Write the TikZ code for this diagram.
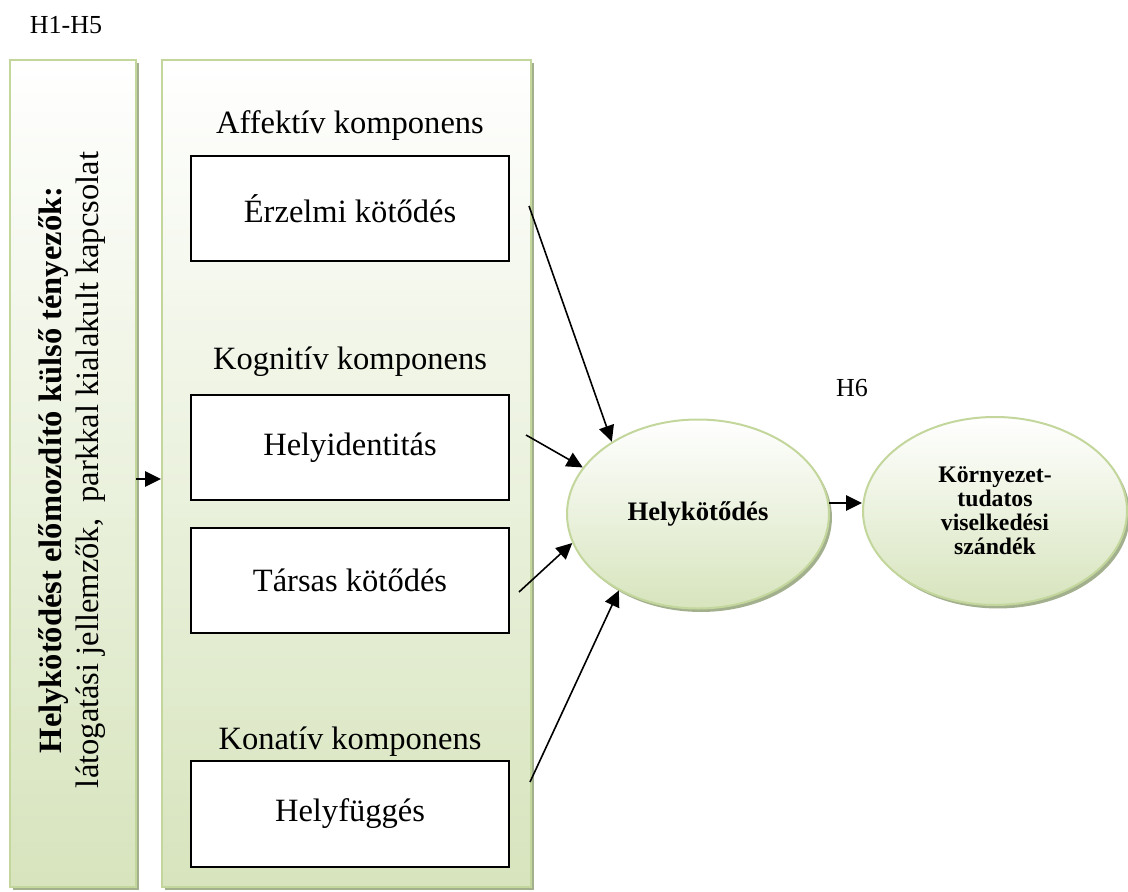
\documentclass[tikz,border=0pt]{standalone}
\usepackage{fontspec}
\setmainfont{Liberation Serif}
\usetikzlibrary{arrows.meta,shadows,calc,shapes.geometric}
\definecolor{pgreen}{HTML}{D7E4BD}
\definecolor{pborder}{HTML}{C3D69B}
\definecolor{pshadow}{HTML}{A3B08E}
\tikzset{
  panel/.style={draw=pborder, line width=1.5pt, top color=white, bottom color=pgreen,
    inner sep=0pt, drop shadow={shadow xshift=2.2pt, shadow yshift=-2.2pt, fill=pshadow, opacity=1}},
  compbox/.style={draw=black, line width=1.3pt, fill=white, inner sep=0pt,
    minimum width=238.5pt, minimum height=79pt, font=\fontsize{24.4}{28}\selectfont},
  comptitle/.style={inner sep=0pt, font=\fontsize{24.4}{28}\selectfont},
  hlabel/.style={inner sep=0pt, font=\fontsize{19.5}{22}\selectfont},
  ell/.style={ellipse, draw=pborder, line width=1.5pt, top color=white, bottom color=pgreen,
    inner sep=0pt, align=center,
    drop shadow={shadow xshift=2.2pt, shadow yshift=-2.6pt, fill=pshadow, opacity=1}},
  arr/.style={-{Triangle[length=12pt,width=11.5pt]}, line width=1.2pt, black},
}
\begin{document}
\begin{tikzpicture}[x=0.75pt,y=-0.75pt]
\useasboundingbox (0,0) rectangle (1128,892);

% H labels
\node[hlabel] (h15) at (66,25) {H1-H5};
\node[hlabel] (h6) at (852,388) {H6};

% panels
\node[panel, minimum width=94.5pt, minimum height=620.25pt] (lp) at (73,473.5) {};
\node[panel, minimum width=276.75pt, minimum height=620.25pt] (mp) at (346.5,473.5) {};

% left panel text
\node[rotate=90, align=center, inner sep=0pt, font=\fontsize{24.4}{27.75}\selectfont] (lt) at (72,470)
  {\textbf{Helykötődést előmozdító külső tényezők:}\\látogatási jellemzők,\ \ parkkal kialakult kapcsolat};

% component titles
\node[comptitle] (taff) at (350,126) {Affektív komponens};
\node[comptitle] (tkog) at (350,362) {Kognitív komponens};
\node[comptitle] (tkon) at (350,742) {Konatív komponens};

% component boxes
\node[compbox] (erz) at (350,208.5) {Érzelmi kötődés};
\node[compbox] (hid) at (350,447.5) {Helyidentitás};
\node[compbox] (tar) at (350,580.5) {Társas kötődés};
\node[compbox] (hf)  at (350,814) {Helyfüggés};

% ellipses
\node[ell, minimum width=196.5pt, minimum height=141.75pt,
      font=\fontsize{20}{22}\selectfont\bfseries] (hk) at (698,514) {Helykötődés};
\node[ell, minimum width=198pt, minimum height=141pt,
      font=\fontsize{17.8}{18}\selectfont\bfseries] (env) at (995,511)
      {Környezet-\\tudatos\\viselkedési\\szándék};

% arrow start points
\coordinate (a1) at (529,206);
\coordinate (a2) at (526,435);
\coordinate (a3) at (519,592);
\coordinate (a4) at (530,782);
\coordinate (la) at (136,479);
\coordinate (ea) at (829,503);

\draw[arr] (a1) -- (hk.140);
\draw[arr] (a2) -- (hk.158);
\draw[arr] (a3) -- (hk.193);
\draw[arr] (a4) -- (hk.224);
\draw[arr] (la) -- (la -| mp.west);
\draw[arr] (ea) -- (ea -| env.west);
\end{tikzpicture}
\end{document}
